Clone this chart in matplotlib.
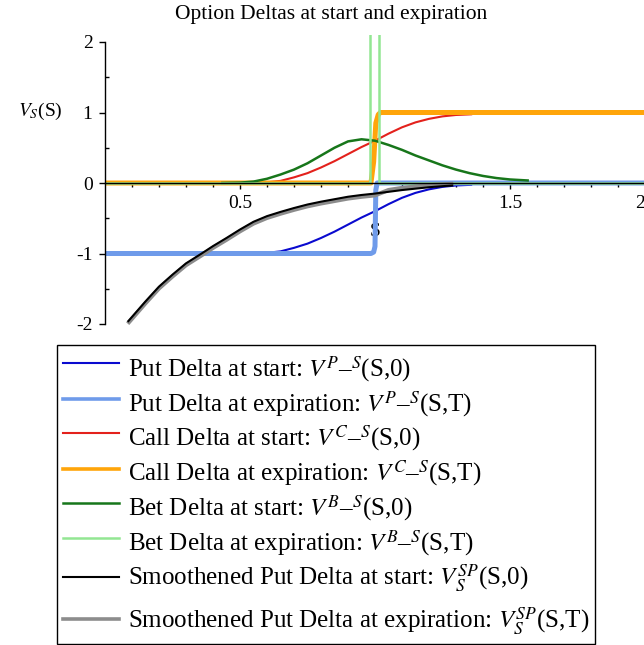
import matplotlib
matplotlib.use("Agg")
import matplotlib.pyplot as plt
from matplotlib.lines import Line2D
from matplotlib.patches import Rectangle
from matplotlib.ticker import FixedLocator, FixedFormatter

plt.rcParams['font.family'] = ['Liberation Serif', 'DejaVu Serif']
plt.rcParams['mathtext.fontset'] = 'stix'

# ---- data ----
# vanilla put / call deltas at start
s_opt = [0.60, 0.65, 0.70, 0.75, 0.80, 0.85, 0.90, 0.95, 1.00, 1.05, 1.10,
         1.15, 1.20, 1.25, 1.30, 1.36]
call_start = [0.01, 0.03, 0.08, 0.14, 0.22, 0.31, 0.41, 0.51, 0.60, 0.70,
              0.79, 0.86, 0.91, 0.945, 0.965, 0.975]
put_start = [-0.99, -0.97, -0.92, -0.86, -0.78, -0.69, -0.59, -0.49, -0.40,
             -0.30, -0.21, -0.14, -0.09, -0.055, -0.035, -0.025]

# deltas at expiration
s_put_exp = [0.0, 0.985, 0.995, 1.0, 1.003, 1.008, 2.0]
put_exp = [-1.0, -1.0, -0.98, -0.9, -0.1, 0.0, 0.0]
s_call_exp = [0.0, 0.985, 0.995, 1.003, 1.012, 1.02, 2.0]
call_exp = [0.0, 0.0, 0.3, 0.85, 0.97, 1.0, 1.0]

# binary bet deltas
s_bet = [0.43, 0.50, 0.55, 0.60, 0.65, 0.70, 0.75, 0.80, 0.85, 0.90, 0.95,
         1.00, 1.05, 1.10, 1.15, 1.20, 1.25, 1.30, 1.35, 1.40, 1.45, 1.50, 1.57]
bet_start = [0.0, 0.005, 0.02, 0.06, 0.12, 0.19, 0.28, 0.39, 0.50, 0.59, 0.62,
             0.60, 0.54, 0.47, 0.39, 0.32, 0.25, 0.19, 0.14, 0.10, 0.07, 0.05,
             0.035]
s_bet_exp = [0.0, 0.981, 0.981, 1.016, 1.016, 2.0]
bet_exp = [0.0, 0.0, 30.0, 30.0, 0.0, 0.0]

# smoothed put deltas
s_smooth = [0.084, 0.15, 0.20, 0.25, 0.30, 0.358, 0.40, 0.45, 0.50, 0.55,
            0.60, 0.65, 0.70, 0.75, 0.80, 0.85, 0.90, 0.95, 1.00, 1.05, 1.10,
            1.15, 1.20, 1.25, 1.29]
smooth_start = [-1.97, -1.68, -1.47, -1.30, -1.14, -1.0, -0.895, -0.78, -0.66,
                -0.55, -0.47, -0.41, -0.355, -0.305, -0.265, -0.23, -0.195,
                -0.17, -0.15, -0.125, -0.10, -0.08, -0.06, -0.045, -0.035]
smooth_exp = [-1.995, -1.705, -1.495, -1.325, -1.165, -1.025, -0.92, -0.805,
              -0.685, -0.575, -0.495, -0.435, -0.38, -0.33, -0.29, -0.255,
              -0.22, -0.195, -0.175, -0.10, -0.07, -0.05, -0.03, -0.02, -0.01]

x_major = [0.5, 1.0, 1.5, 2.0]
x_major_labels = ["0.5", "", "1.5", "2"]
y_major = [-2, -1, 0, 1, 2]
y_major_labels = ["-2", "-1", "0", "1", "2"]

labels = [
    r"Put Delta at start: $V^{P}$–$^{S}$(S,0)",
    r"Put Delta at expiration: $V^{P}$–$^{S}$(S,T)",
    r"Call Delta at start: $V^{C}$–$^{S}$(S,0)",
    r"Call Delta at expiration: $V^{C}$–$^{S}$(S,T)",
    r"Bet Delta at start: $V^{B}$–$^{S}$(S,0)",
    r"Bet Delta at expiration: $V^{B}$–$^{S}$(S,T)",
    r"Smoothened Put Delta at start: $V_S^{SP}$(S,0)",
    r"Smoothened Put Delta at expiration: $V_S^{SP}$(S,T)",
]

# ---- figure ----
W, H = 644, 645
fig = plt.figure(figsize=(W / 100, H / 100), dpi=100)

def fx(px):
    return px / W

def fy(py):
    return 1 - py / H

ax_left, ax_right, ax_top, ax_bot = 105, 645, 35, 325
ax = fig.add_axes([fx(ax_left), fy(ax_bot), (ax_right - ax_left) / W,
                   (ax_bot - ax_top) / H])
ax.set_xlim(0, (ax_right - ax_left) / 270.0)
ax.set_ylim((183 - ax_bot) / 70.5, (183 - ax_top) / 70.5)
ax.patch.set_visible(False)

series = [
    (s_opt, put_start, '#0A0ACF', 1.5, 3),
    (s_put_exp, put_exp, '#6F9BEA', 3.6, 3.1),
    (s_opt, call_start, '#E3211C', 1.5, 3.2),
    (s_call_exp, call_exp, '#FFA50A', 3.6, 3.3),
    (s_bet, bet_start, '#17761A', 1.8, 3.4),
    (s_bet_exp, bet_exp, '#93E693', 1.8, 3.5),
    (s_smooth, smooth_start, '#000000', 1.5, 3.7),
    (s_smooth, smooth_exp, '#8C8C8C', 3.0, 3.6),
]
for xs, ys, col, lw, z in series:
    ax.plot(xs, ys, color=col, lw=lw, zorder=z, solid_capstyle='butt')

for side in ('top', 'right'):
    ax.spines[side].set_visible(False)
ax.spines['left'].set_position(('data', 0))
ax.spines['bottom'].set_position(('data', 0))
ax.spines['left'].set_bounds(-2, 2)
for side in ('left', 'bottom'):
    ax.spines[side].set_linewidth(1.0)
    ax.spines[side].set_zorder(4)

ax.xaxis.set_major_locator(FixedLocator(x_major))
ax.xaxis.set_major_formatter(FixedFormatter(x_major_labels))
ax.xaxis.set_minor_locator(FixedLocator([i / 10 for i in range(1, 21)
                                         if i % 5 != 0]))
ax.yaxis.set_major_locator(FixedLocator(y_major))
ax.yaxis.set_major_formatter(FixedFormatter(y_major_labels))
ax.yaxis.set_minor_locator(FixedLocator([-1.5, -0.5, 0.5, 1.5]))

ax.tick_params(axis='x', which='major', direction='out', length=4, width=1,
               labelsize=14, pad=5)
ax.tick_params(axis='x', which='minor', direction='out', length=3, width=1)
ax.tick_params(axis='y', which='major', direction='out', length=4, width=1,
               labelsize=14, pad=5)
ax.tick_params(axis='y', which='minor', direction='in', length=3, width=1)
fig.canvas.draw()
# the last x label sits at the right edge of the figure: keep it inside
ax.get_xticklabels()[-1].set_horizontalalignment('right')

ax.annotate("S", xy=(1.0, 0), xycoords='data', xytext=(0, -35),
            textcoords='offset points', ha='center', va='center', fontsize=14)

fig.text(fx(40), fy(111), r"$V_S$(S)", ha='center', va='center', fontsize=14)
fig.text(fx(331), fy(14), "Option Deltas at start and expiration",
         ha='center', va='center', fontsize=15.5)

# ---- legend ----
fig.patches.append(Rectangle((fx(57), fy(644)), (595 - 57) / W, (644 - 345) / H,
                             transform=fig.transFigure, fill=False,
                             edgecolor='black', lw=1.0))
handle_y = [363, 399, 433, 469, 503, 538, 577, 619]
text_base = [377, 412, 446, 481, 516, 551, 586, 629]
for (xs, ys, col, lw, z), lab, hy, by in zip(series, labels, handle_y, text_base):
    fig.lines.append(Line2D([fx(63), fx(119)], [fy(hy), fy(hy)],
                            transform=fig.transFigure, color=col,
                            lw=min(lw, 2.6)))
    fig.text(fx(128), fy(by), lab, ha='left', va='baseline', fontsize=18)

fig.savefig("out.png", dpi=100)
